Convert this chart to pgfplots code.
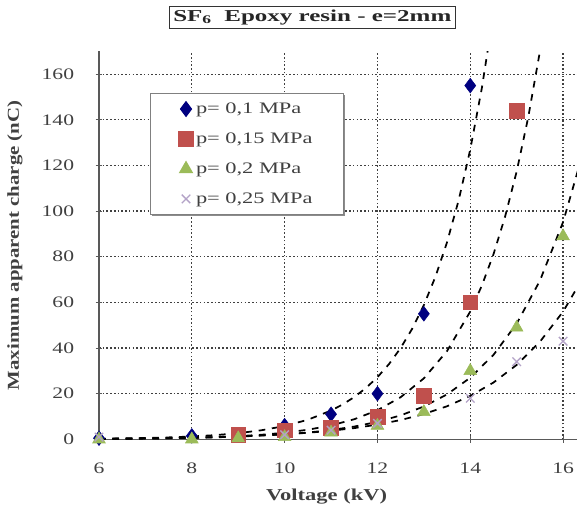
\documentclass[border=0pt]{standalone}
\usepackage{fontspec}
\setmainfont{Liberation Serif}
\newfontfamily\tickfont{Liberation Serif}[FakeStretch=1.35]
\newfontfamily\labelfont{Liberation Serif}[FakeStretch=1.25]
\newfontfamily\xlabelfont{Liberation Serif}[FakeStretch=1.35]
\newfontfamily\legfont{Liberation Serif}[FakeStretch=1.4]
\newfontfamily\titlefont{Liberation Serif}[FakeStretch=1.5]
\usepackage{pgfplots}
\pgfplotsset{compat=1.18}
\usetikzlibrary{shadows}
\definecolor{cblue}{HTML}{000080}
\definecolor{cred}{HTML}{C0504D}
\definecolor{cgreen}{HTML}{9BBB59}
\definecolor{cpurple}{HTML}{B3A2C7}
\begin{document}
\begin{tikzpicture}
\begin{axis}[
  scale only axis,
  width=358.5pt, height=291pt,
  xmin=6, xmax=16.3, ymin=0, ymax=170,
  xtick={6,8,...,16}, ytick={0,20,...,160},
  axis lines=left,
  axis line style={-, line width=1pt, black!65},
  tick style={black!65, line width=0.8pt},
  major tick length=5pt,
  ytick pos=left, xtick pos=bottom,
  tick align=center,
  grid=major,
  major grid style={black!75, line width=0.9pt, dash pattern=on 1.2pt off 1.6pt},
  /pgf/number format/assume math mode=true,
  ticklabel style={font=\tickfont\fontsize{12}{14}\selectfont, text=black!75},
  xticklabel style={anchor=center, inner sep=0pt, yshift=-19pt},
  yticklabel style={anchor=east, inner sep=0pt, xshift=-16pt},
  xlabel={Voltage (kV)},
  ylabel={Maximum apparent charge (nC)},
  every axis x label/.style={at={(axis description cs:0.476,-0.148)}, anchor=center,
    font=\xlabelfont\fontsize{12.5}{14}\selectfont\bfseries, text=black!75},
  every axis y label/.style={at={(axis description cs:-0.176,0.5)}, anchor=center, rotate=90,
    font=\labelfont\fontsize{12.5}{14}\selectfont\bfseries, text=black!75},
  legend style={at={(rel axis cs:0.107,0.893)}, anchor=north west,
    draw=black!50, line width=0.8pt, fill=white,
    font=\legfont\fontsize{12}{14}\selectfont, text=black!75,
    row sep=9pt, inner xsep=21pt, inner ysep=5pt,
    drop shadow={shadow xshift=1.2pt, shadow yshift=-1.2pt, fill=black!45, opacity=1}},
  legend cell align=left,
  clip=true,
]
\addplot[only marks, mark=diamond*, mark size=5.5pt, color=cblue] coordinates {
 (6,0.5) (8,1.5) (10,6) (11,11) (12,20) (13,55) (14,155)};
\addlegendentry{p= 0,1 MPa}
\addplot[only marks, mark=square*, mark size=5.5pt, color=cred] coordinates {
 (9,2) (10,4) (11,5) (12,10) (13,19) (14,60) (15,144)};
\addlegendentry{p= 0,15 MPa}
\addplot[only marks, mark=triangle*, mark size=5.5pt, color=cgreen] coordinates {
 (6,0) (8,0) (9,0.5) (10,1) (11,3) (12,6) (13,12) (14,30) (15,49) (16,89)};
\addlegendentry{p= 0,2 MPa}
\addplot[only marks, mark=x, mark size=4.5pt, line width=1pt, color=cpurple] coordinates {
 (6,1) (10,2) (11,4) (12,7) (14,18) (15,34) (16,43)};
\addlegendentry{p= 0,25 MPa}
% exponential trend lines
\addplot[forget plot, black, line width=1.3pt, dash pattern=on 5pt off 5pt] coordinates {
 (6,0.268) (6.5,0.394) (7,0.579) (7.5,0.851) (8,1.251) (8.5,1.838) (9,2.701) (9.5,3.970)
 (10,5.834) (10.5,8.575) (11,12.60) (11.25,15.28) (11.5,18.52) (11.75,22.46) (12,27.22)
 (12.25,33.00) (12.5,40.01) (12.75,48.50) (13,58.80) (13.25,71.28) (13.5,86.41)
 (13.75,104.76) (14,127) (14.25,153.96) (14.5,186.6)};
\addplot[forget plot, black, line width=1.3pt, dash pattern=on 5pt off 5pt] coordinates {
 (6,0.151) (7,0.315) (8,0.661) (8.5,0.957) (9,1.385) (9.5,2.005) (10,2.903) (10.5,4.202)
 (11,6.083) (11.5,8.807) (12,12.75) (12.5,18.46) (13,26.72) (13.5,38.68) (14,56)
 (14.25,67.38) (14.5,81.07) (14.75,97.55) (15,117.37) (15.25,141.2) (15.5,169.9) (15.75,204.4)};
\addplot[forget plot, black, line width=1.3pt, dash pattern=on 5pt off 5pt] coordinates {
 (6,0.175) (7,0.328) (8,0.616) (9,1.157) (10,2.172) (10.5,2.976) (11,4.078) (11.5,5.588)
 (12,7.657) (12.5,10.49) (13,14.38) (13.5,19.70) (14,27) (14.5,37.0) (15,50.70)
 (15.5,69.47) (16,95.2) (16.5,130.5)};
\addplot[forget plot, black, line width=1.3pt, dash pattern=on 5pt off 5pt] coordinates {
 (6,0.25) (7,0.43) (8,0.74) (9,1.27) (10,2.19) (10.5,2.87) (11,3.76) (11.5,4.92)
 (12,6.45) (12.5,8.45) (13,11.07) (13.5,14.50) (14,19) (14.5,24.89) (15,32.61)
 (15.5,42.72) (16,55.96) (16.5,73.3)};
\end{axis}
\node[draw=black!80, line width=1pt, fill=white, inner xsep=3pt, inner ysep=2.5pt,
  font=\titlefont\fontsize{12.5}{14}\selectfont\bfseries, text=black!85, anchor=center]
  at ([xshift=160pt, yshift=25.5pt]current axis.north west) {SF\textsubscript{6}\ \ Epoxy resin - e=2mm};
\pgfresetboundingbox
\path ([xshift=-74.25pt, yshift=-55pt]current axis.south west) rectangle ([yshift=38.5pt]current axis.north east);
\end{tikzpicture}
\end{document}
